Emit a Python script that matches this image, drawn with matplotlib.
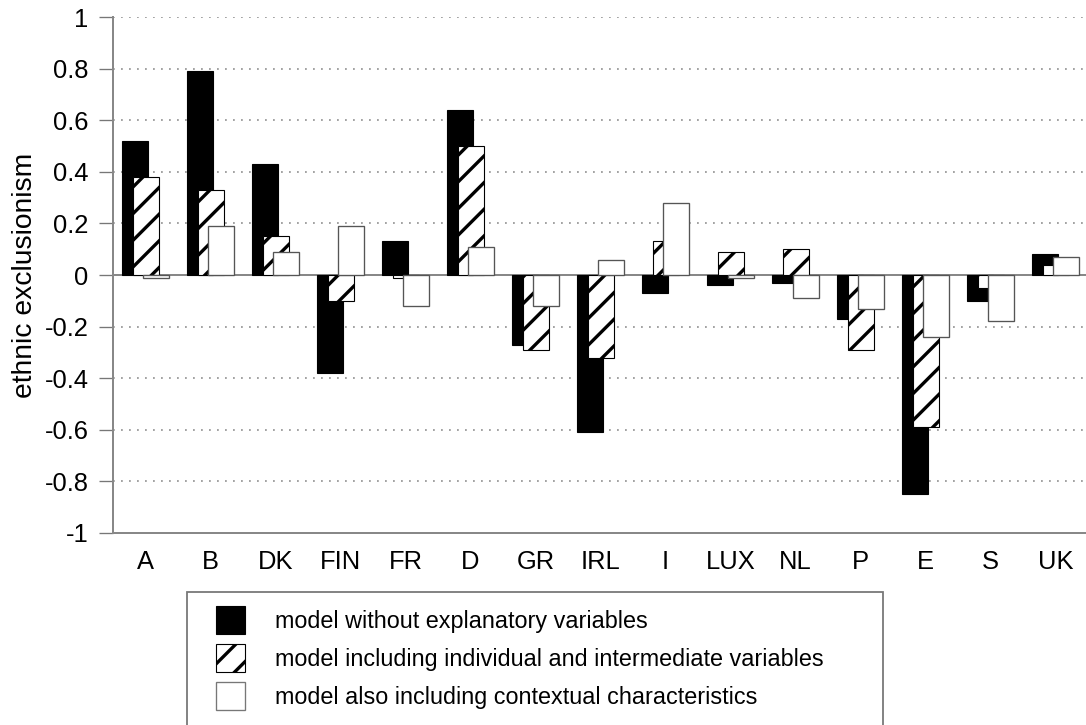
import numpy as np
import matplotlib
matplotlib.use("Agg")
import matplotlib.pyplot as plt
from matplotlib.patches import Patch, Rectangle

plt.rcParams['font.family'] = ['Liberation Sans', 'DejaVu Sans']
plt.rcParams['hatch.linewidth'] = 1.5

countries = ["A", "B", "DK", "FIN", "FR", "D", "GR", "IRL", "I", "LUX",
             "NL", "P", "E", "S", "UK"]
no_vars = [0.52, 0.79, 0.43, -0.38, 0.13, 0.64, -0.27, -0.61, -0.07, -0.04,
           -0.03, -0.17, -0.85, -0.10, 0.08]
indiv_vars = [0.38, 0.33, 0.15, -0.10, -0.01, 0.50, -0.29, -0.32, 0.13, 0.09,
              0.10, -0.29, -0.59, -0.05, 0.04]
context_vars = [-0.01, 0.19, 0.09, 0.19, -0.12, 0.11, -0.12, 0.06, 0.28, -0.01,
                -0.09, -0.13, -0.24, -0.18, 0.07]
labels = ["model without explanatory variables",
          "model including individual and intermediate variables",
          "model also including contextual characteristics"]

W, H, DPI = 1086, 725, 160
fig = plt.figure(figsize=(W / DPI, H / DPI), dpi=DPI)
ax = fig.add_axes([113 / W, 1 - 533 / H, 1 - 113 / W + 0.002, (533 - 17) / H])

x = np.arange(len(countries))
bw = 0.4
ax.bar(x - 0.16, no_vars, bw, color="black", edgecolor="black", lw=0.5, zorder=3)
ax.bar(x, indiv_vars, bw, color="white", edgecolor="black", hatch="//", lw=0.5, zorder=4)
ax.bar(x + 0.16, context_vars, bw, color="white", edgecolor="#555555", lw=0.6, zorder=5)

ax.axhline(0, color="#888888", lw=0.9, zorder=2)

ax.set_xlim(-0.5, len(countries) - 0.5)
ax.set_ylim(-1, 1)
ax.set_yticks(np.arange(-1, 1.01, 0.2))
ax.set_yticklabels(["-1", "-0.8", "-0.6", "-0.4", "-0.2", "0",
                    "0.2", "0.4", "0.6", "0.8", "1"])
ax.set_xticks(x)
ax.set_xticklabels(countries)
ax.tick_params(axis="y", length=6.5, width=0.6, color="#777777", pad=4.5, labelsize=11.5)
ax.tick_params(axis="x", length=0, pad=7.5, labelsize=11.5)
ax.yaxis.grid(True, color="#999999", linestyle=(0, (1, 3.5)), lw=0.8, zorder=1)
ax.set_axisbelow(True)

for s in ["top", "right"]:
    ax.spines[s].set_visible(False)
for s in ["left", "bottom"]:
    ax.spines[s].set_color("#888888")
    ax.spines[s].set_linewidth(0.9)

ax.set_ylabel("ethnic exclusionism", fontsize=12.7, labelpad=3)

# legend box (runs off the bottom edge like the original)
fig.add_artist(Rectangle((187 / W, -0.05), (883 - 187) / W, (725 - 592) / H + 0.05,
                         transform=fig.transFigure, fill=False,
                         edgecolor="#777777", lw=0.8))
handles = [Patch(facecolor="black", edgecolor="black", lw=0.5),
           Patch(facecolor="white", edgecolor="black", hatch="//", lw=0.5),
           Patch(facecolor="white", edgecolor="#777777", lw=0.6)]
fs = 10.5
fig.legend(handles, labels, loc="upper left",
           bbox_to_anchor=(216 / W, 1 - 606 / H), bbox_transform=fig.transFigure,
           frameon=False, fontsize=fs, borderpad=0, borderaxespad=0,
           handlelength=1.245, handleheight=1.5, handletextpad=1.29,
           labelspacing=0.4)

fig.savefig("out.png", dpi=DPI)
